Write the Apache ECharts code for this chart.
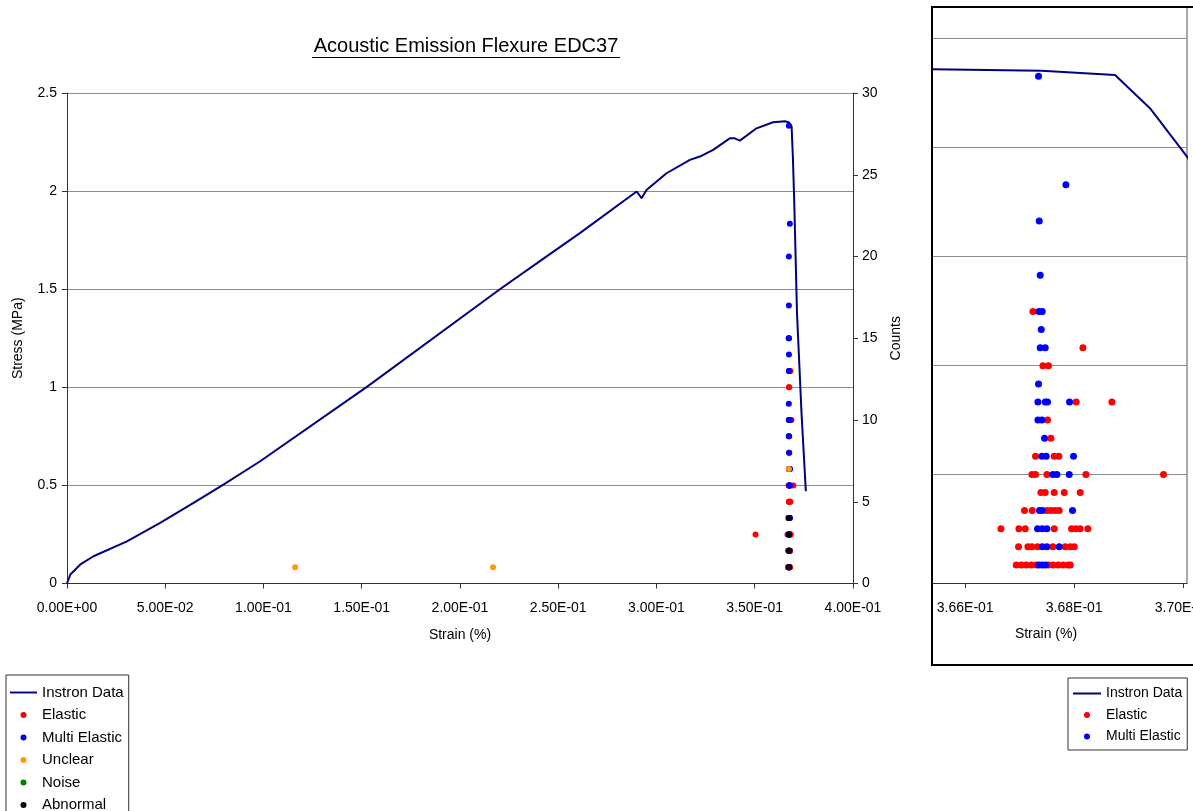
<!DOCTYPE html>
<html>
<head>
<meta charset="utf-8">
<script src="https://cdn.jsdelivr.net/npm/echarts@6/dist/echarts.min.js"></script>
<style>
  html, body { margin: 0; padding: 0; background: #fff; }
  #chart { width: 1193px; height: 811px; }
</style>
</head>
<body>
<div id="chart"></div>
<script>
// ===== Acoustic Emission Flexure EDC37 =====
'use strict';

// Instron stress-strain curve
var instronStrain = [0, 0.0017, 0.0068, 0.0135, 0.0305, 0.0474, 0.0644, 0.0796, 0.0983, 0.1526,
  0.2203, 0.2441, 0.2610, 0.2899, 0.2924, 0.2949, 0.3051, 0.3170, 0.3221, 0.3288,
  0.3373, 0.3398, 0.3424, 0.3509, 0.3593, 0.3654, 0.3674, 0.36875, 0.36939, 0.37007,
  0.3715, 0.3738, 0.3760];
var instronStress = [0, 0.046, 0.097, 0.139, 0.215, 0.309, 0.411, 0.504, 0.623, 1.002,
  1.500, 1.667, 1.786, 1.998, 1.964, 2.006, 2.091, 2.159, 2.176, 2.210,
  2.269, 2.269, 2.257, 2.320, 2.351, 2.356, 2.350, 2.330, 2.178, 1.956,
  1.378, 0.869, 0.470];

// AE hits: [strain, counts]
var elasticHits = [
  [0.366936, 1], [0.367028, 1], [0.367119, 1], [0.367211, 1], [0.367303, 1], [0.367528, 1],
  [0.367615, 1], [0.367706, 1], [0.367798, 1], [0.367890, 1], [0.367927, 1],
  [0.366978, 2], [0.367150, 2], [0.367224, 2], [0.367327, 2], [0.367609, 2], [0.367835, 2],
  [0.367927, 2], [0.368000, 2],
  [0.3504, 3], [0.366655, 3], [0.366985, 3], [0.367101, 3], [0.367633, 3], [0.367951, 3],
  [0.368031, 3], [0.368110, 3], [0.368251, 3],
  [0.367088, 4], [0.367229, 4], [0.367499, 4], [0.367573, 4], [0.367651, 4], [0.367725, 4],
  [0.367389, 5], [0.367468, 5], [0.367633, 5], [0.367817, 5], [0.368110, 5],
  [0.367224, 6], [0.367290, 6], [0.367499, 6], [0.368215, 6], [0.369639, 6],
  [0.367290, 7], [0.367633, 7], [0.367719, 7],
  [0.367573, 8], [0.367510, 9], [0.368037, 10], [0.368692, 10],
  [0.367426, 12], [0.367528, 12], [0.368160, 13], [0.367242, 15]
];
var multiElasticHits = [
  [0.367352, 1], [0.367413, 1], [0.367473, 1],
  [0.367413, 2], [0.367499, 2], [0.367725, 2],
  [0.367327, 3], [0.367413, 3], [0.367499, 3],
  [0.367363, 4], [0.367413, 4], [0.367969, 4],
  [0.367609, 6], [0.367683, 6], [0.367908, 6],
  [0.367407, 7], [0.367486, 7], [0.367987, 7],
  [0.367455, 8], [0.367334, 9], [0.367407, 9],
  [0.367334, 10], [0.367468, 10], [0.367510, 10], [0.367914, 10],
  [0.367345, 11], [0.367376, 13], [0.367468, 13], [0.367395, 14],
  [0.367352, 15], [0.367413, 15], [0.367376, 17], [0.367358, 20],
  [0.367848, 22], [0.367345, 28]
];
var unclearHits = [[0.1161, 1], [0.2168, 1], [0.3674, 7]];
var noiseHits = [];
var abnormalHits = [[0.3674, 1], [0.3674, 2], [0.3674, 3], [0.3674, 4]];

// axes
var mainStrainRange = [0, 0.4];
var stressRange = [0, 2.5];
var countsRange = [0, 30];
var insetStrainRange = [0.36539, 0.37007];
var insetStrainTicks = [0.366, 0.368, 0.370];
var insetStressMax = 2.642;
var insetCountsMax = 31.82;

var FONT = '"Liberation Sans", Arial, sans-serif';
var ink = '#000';
var axisInk = '#333';
var gridInk = '#8c8c8c';
var navy = '#000080';
var lineIcon = 'path://M0,0h28v2h-28z';

function sci(v) {
  var parts = v.toExponential(2).split('e');
  var exp = parseInt(parts[1], 10);
  var a = Math.abs(exp);
  return parts[0] + 'E' + (exp < 0 ? '-' : '+') + (a < 10 ? '0' : '') + a;
}

var instronData = instronStrain.map(function(s, i) { return [s, instronStress[i]]; });

function dots(name, color, data, xi, yi, size) {
  return {
    name: name, type: 'scatter', xAxisIndex: xi, yAxisIndex: yi,
    data: data, symbol: 'circle', symbolSize: size,
    itemStyle: { color: color, opacity: 1 }, silent: true
  };
}

var chart = echarts.init(document.getElementById('chart'), null, { renderer: 'canvas' });
chart.setOption({
  animation: false,
  backgroundColor: '#fff',
  textStyle: { fontFamily: FONT, color: ink },
  grid: [
    { left: 67, right: 340, top: 93, bottom: 227.5, outerBoundsMode: 'none', containLabel: false },
    { left: 932, right: 6, top: 7, bottom: 228, outerBoundsMode: 'none', containLabel: false }
  ],
  xAxis: [
    {
      type: 'value', gridIndex: 0, min: mainStrainRange[0], max: mainStrainRange[1], interval: 0.05,
      name: 'Strain (%)', nameLocation: 'middle', nameGap: 45,
      nameTextStyle: { fontSize: 14, color: ink },
      axisLine: { lineStyle: { color: axisInk, width: 1 } },
      axisTick: { show: true, inside: false, length: 5, lineStyle: { color: axisInk } },
      axisLabel: { fontSize: 14, color: ink, margin: 18, formatter: sci },
      splitLine: { show: false }
    },
    {
      type: 'value', gridIndex: 1, min: insetStrainRange[0], max: insetStrainRange[1],
      axisLine: { lineStyle: { color: axisInk, width: 1 } },
      axisTick: { show: true, inside: false, length: 5, customValues: insetStrainTicks, lineStyle: { color: axisInk } },
      axisLabel: { fontSize: 14, color: ink, margin: 18, customValues: insetStrainTicks, formatter: sci },
      splitLine: { show: false }
    }
  ],
  yAxis: [
    {
      type: 'value', gridIndex: 0, min: stressRange[0], max: stressRange[1], interval: 0.5,
      name: 'Stress (MPa)', nameLocation: 'middle', nameGap: 42,
      nameTextStyle: { fontSize: 14, color: ink },
      axisLine: { show: true, lineStyle: { color: axisInk, width: 1 } },
      axisTick: { show: true, length: 5, lineStyle: { color: axisInk } },
      axisLabel: { fontSize: 14, color: ink, margin: 10 },
      splitLine: { show: true, lineStyle: { color: gridInk, width: 1 } }
    },
    {
      type: 'value', gridIndex: 0, position: 'right', min: countsRange[0], max: countsRange[1], interval: 5,
      name: 'Counts', nameLocation: 'middle', nameGap: 36,
      nameTextStyle: { fontSize: 14, color: ink },
      axisLine: { show: true, lineStyle: { color: axisInk, width: 1 } },
      axisTick: { show: true, length: 5, lineStyle: { color: axisInk } },
      axisLabel: { fontSize: 14, color: ink, margin: 9 },
      splitLine: { show: false }
    },
    {
      type: 'value', gridIndex: 1, min: 0, max: insetStressMax, interval: 0.5,
      axisLine: { show: false }, axisTick: { show: false }, axisLabel: { show: false },
      splitLine: { show: true, lineStyle: { color: gridInk, width: 1 } }
    },
    {
      type: 'value', gridIndex: 1, position: 'right', min: 0, max: insetCountsMax,
      axisLine: { show: true, lineStyle: { color: gridInk, width: 1.5 } },
      axisTick: { show: false }, axisLabel: { show: false }, splitLine: { show: false }
    }
  ],
  legend: [
    {
      orient: 'vertical', left: 6, top: 675, height: 170,
      data: [{ name: 'Instron Data', icon: lineIcon }, 'Elastic', 'Multi Elastic', 'Unclear', 'Noise', 'Abnormal'],
      itemWidth: 27, itemHeight: 6, itemGap: 7.5,
      padding: [10, 5, 8, 4],
      borderColor: '#333', borderWidth: 1, borderRadius: 0,
      selectedMode: false,
      textStyle: { fontSize: 15, lineHeight: 15, color: ink, fontFamily: FONT }
    },
    {
      orient: 'vertical', left: 1068, top: 678, height: 100,
      data: [{ name: 'Instron Data', icon: lineIcon }, 'Elastic', 'Multi Elastic'],
      itemWidth: 28, itemHeight: 6, itemGap: 6.5,
      padding: [8, 5, 6, 5],
      borderColor: '#333', borderWidth: 1, borderRadius: 0,
      selectedMode: false,
      textStyle: { fontSize: 14, lineHeight: 15, color: ink, fontFamily: FONT }
    }
  ],
  series: [
    {
      name: 'Instron Data', type: 'line', xAxisIndex: 0, yAxisIndex: 0,
      data: instronData, symbol: 'none', showSymbol: false,
      lineStyle: { color: navy, width: 2 }, itemStyle: { color: navy }, silent: true
    },
    dots('Elastic', '#ff0000', elasticHits, 0, 1, 6),
    dots('Multi Elastic', '#0000ff', multiElasticHits, 0, 1, 6),
    dots('Unclear', '#ff9900', unclearHits, 0, 1, 6),
    dots('Noise', '#008000', noiseHits, 0, 1, 6),
    dots('Abnormal', '#000000', abnormalHits, 0, 1, 6),
    {
      name: 'Instron Data', type: 'line', xAxisIndex: 1, yAxisIndex: 2,
      data: instronData, symbol: 'none', showSymbol: false, clip: true,
      lineStyle: { color: navy, width: 2 }, itemStyle: { color: navy }, silent: true
    },
    dots('Elastic', '#ff0000', elasticHits, 1, 3, 7),
    dots('Multi Elastic', '#0000ff', multiElasticHits, 1, 3, 7)
  ],
  graphic: [
    {
      type: 'text', x: 466, y: 46, silent: true,
      style: { text: 'Acoustic Emission Flexure EDC37', fill: ink, font: '20px ' + FONT,
        textAlign: 'center', textVerticalAlign: 'middle' }
    },
    {
      type: 'line', silent: true,
      shape: { x1: 312, y1: 57.5, x2: 620, y2: 57.5 },
      style: { stroke: ink, lineWidth: 1 }
    },
    {
      type: 'text', x: 1046, y: 634, silent: true,
      style: { text: 'Strain (%)', fill: ink, font: '14px ' + FONT,
        textAlign: 'center', textVerticalAlign: 'middle' }
    },
    {
      type: 'rect', z: 100, silent: true,
      shape: { x: 932, y: 7, width: 300, height: 658 },
      style: { fill: null, stroke: '#000', lineWidth: 2 }
    }
  ]
});
</script>
</body>
</html>
